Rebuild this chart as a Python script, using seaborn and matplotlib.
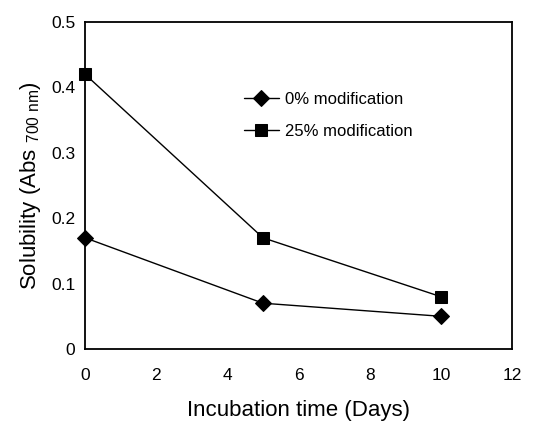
import pandas as pd
import matplotlib
matplotlib.use('Agg')
import matplotlib.pyplot as plt
import seaborn as sns

days = [0, 5, 10]
mod_0 = [0.17, 0.07, 0.05]
mod_25 = [0.42, 0.17, 0.08]
series_names = ['0% modification', '25% modification']

df = pd.DataFrame({
    'Days': days * 2,
    'Solubility': mod_0 + mod_25,
    'Series': [series_names[0]] * 3 + [series_names[1]] * 3,
})

sns.set_style('white')
plt.rcParams['font.family'] = ['Liberation Sans', 'DejaVu Sans']
plt.rcParams['mathtext.fontset'] = 'custom'
plt.rcParams['mathtext.rm'] = 'Liberation Sans'
plt.rcParams['text.color'] = 'black'
plt.rcParams['axes.labelcolor'] = 'black'
plt.rcParams['xtick.color'] = 'black'
plt.rcParams['ytick.color'] = 'black'

fig = plt.figure(figsize=(5.35, 4.22), dpi=100)
ax = fig.add_axes([0.159, 0.173, 0.798, 0.775])

sns.lineplot(data=df, x='Days', y='Solubility', hue='Series', style='Series',
             markers={series_names[0]: 'D', series_names[1]: 's'},
             dashes=False, palette=['black', 'black'], markersize=8,
             linewidth=1, markeredgecolor='black', ax=ax)
for line in ax.lines:
    line.set_clip_on(False)

ax.set_xlim(0, 12)
ax.set_ylim(0, 0.5)
ax.set_xticks([0, 2, 4, 6, 8, 10, 12])
ax.set_yticks([0, 0.1, 0.2, 0.3, 0.4, 0.5])
ax.set_yticklabels(['0', '0.1', '0.2', '0.3', '0.4', '0.5'])
ax.tick_params(labelsize=12.5, length=0)
ax.tick_params(axis='x', pad=14)
ax.tick_params(axis='y', pad=7)
for s in ax.spines.values():
    s.set_color('black')
    s.set_linewidth(1.3)

ax.set_xlabel('Incubation time (Days)', fontsize=16, labelpad=12)
ax.set_ylabel('Solubility (Abs $_{\\mathrm{700\\ nm}}$)', fontsize=16, labelpad=6)

ax.legend(title=None, frameon=False, fontsize=12, loc='upper left',
          bbox_to_anchor=(0.336, 0.832), handlelength=2.1, handletextpad=0.4,
          labelspacing=1.0)

fig.savefig('out.png', dpi=100)
